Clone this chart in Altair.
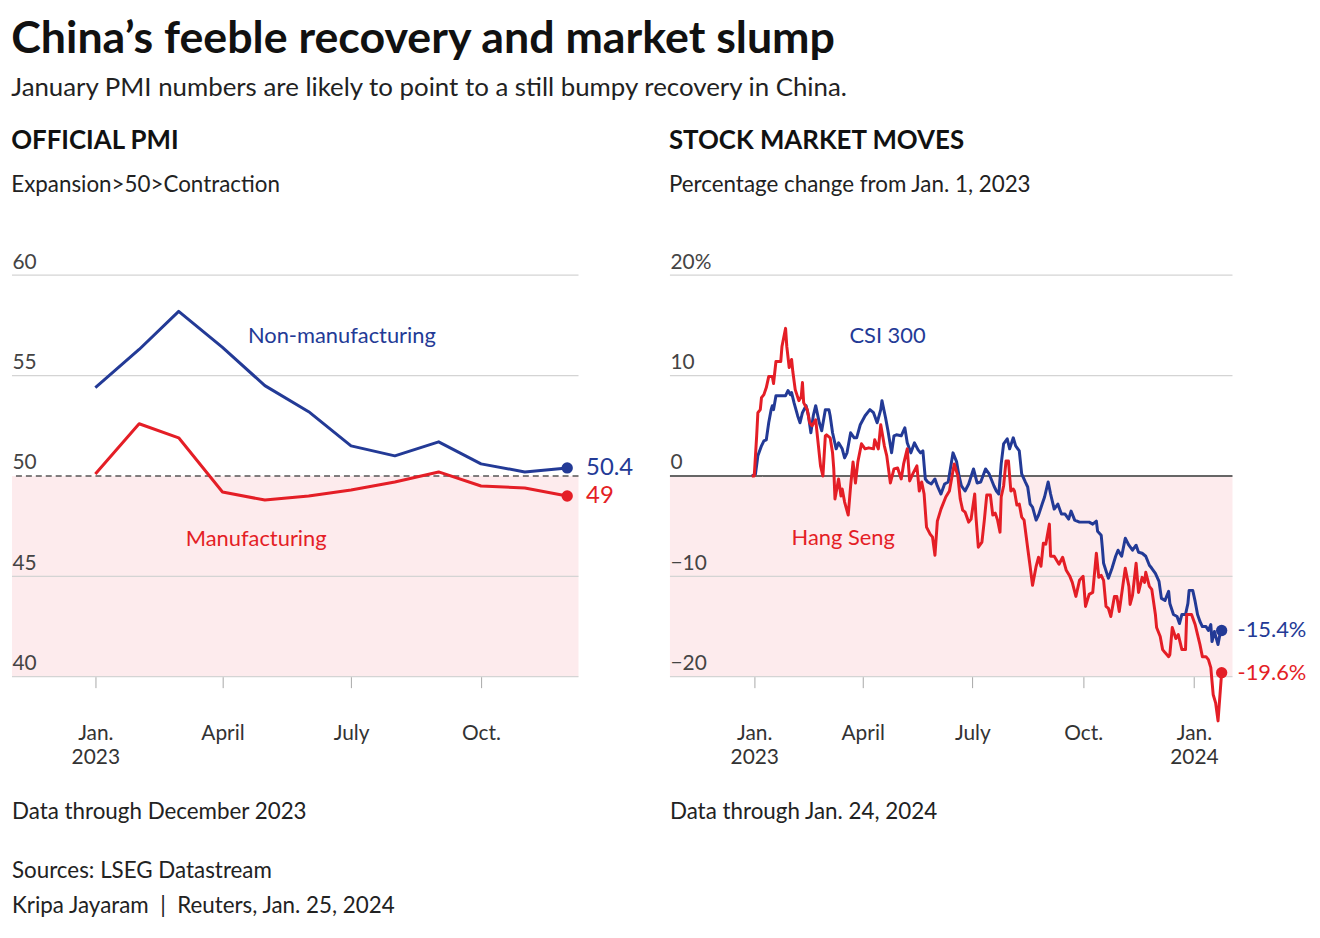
import altair as alt
import pandas as pd

FONT = "Lato"
BLUE = "#233a96"
BLUE_TXT = "#2c2f8e"
RED = "#e41e26"
PINK = "#fdebed"
GRID = "#d4d4d4"

# ---------------- Official PMI (monthly, 2023) ----------------
pmi_months = ["2023-01-01", "2023-02-01", "2023-03-01", "2023-04-01", "2023-05-01", "2023-06-01",
              "2023-07-01", "2023-08-01", "2023-09-01", "2023-10-01", "2023-11-01", "2023-12-01"]
pmi_nonmfg = [54.4, 56.3, 58.2, 56.4, 54.5, 53.2, 51.5, 51.0, 51.7, 50.6, 50.2, 50.4]
pmi_mfg = [50.1, 52.6, 51.9, 49.2, 48.8, 49.0, 49.3, 49.7, 50.2, 49.5, 49.4, 49.0]

# ---------------- Stock market moves (% change from Jan. 1, 2023) ----------------
# x-values: days after 2023-01-01
csi_days = [-2, 1, 3, 6, 8, 10, 12, 14, 15, 16, 18, 21, 26, 28, 30, 31, 33, 36, 38, 40, 43, 45, 47, 49, 51,
            54, 56, 59, 62, 63, 65, 68, 70, 73, 75, 77, 80, 83, 85, 88, 92, 96, 99, 102, 105, 106, 109, 111,
            114, 116, 118, 122, 125, 127, 130, 133, 136, 138, 140, 142, 144, 147, 150, 152, 155, 158, 161,
            165, 168, 170, 172, 175, 178, 182, 185, 188, 192, 195, 199, 201, 203, 205, 207, 210, 212, 215,
            217, 220, 222, 225, 227, 229, 231, 234, 236, 239, 241, 244, 246, 249, 252, 255, 258, 261, 263,
            266, 270, 274, 278, 281, 284, 285, 288, 289, 290, 294, 297, 300, 302, 305, 308, 311, 314, 317,
            319, 322, 325, 328, 330, 333, 336, 338, 341, 344, 345, 348, 351, 353, 355, 358, 360, 361, 364,
            366, 368, 370, 372, 375, 377, 379, 380, 382, 385, 387, 388]
csi_pct = [0.0, 0.2, 2.0, 3.0, 3.5, 3.6, 5.3, 6.6, 7.0, 6.6, 8.0, 8.0, 8.0, 8.5, 8.1, 8.3, 7.3, 6.0, 5.3, 6.3,
           7.0, 6.0, 4.3, 6.0, 7.0, 5.3, 4.5, 6.6, 6.6, 6.0, 4.3, 2.7, 3.3, 2.7, 1.8, 2.3, 4.3, 3.8, 3.8,
           5.1, 6.0, 6.6, 6.3, 5.3, 6.6, 7.5, 5.8, 4.5, 2.3, 4.0, 4.1, 4.0, 4.8, 3.3, 2.3, 3.3, 2.6, 2.3,
           2.5, -0.3, -0.6, -0.8, -0.3, -1.0, -1.8, -0.8, -0.6, 2.3, 1.4, 0.0, -1.0, -1.5, -0.8, 0.7, -0.7,
           -0.6, 0.7, 0.2, -1.0, -1.5, -1.8, 1.2, 3.2, 3.7, 2.7, 3.8, 3.0, 2.5, 0.2, -0.6, -1.1, -2.8,
           -3.1, -4.4, -3.9, -2.8, -2.1, -0.6, -1.8, -3.3, -2.8, -3.8, -3.8, -4.3, -3.5, -4.4, -4.6, -4.6,
           -4.6, -4.8, -4.5, -5.5, -5.9, -7.2, -8.7, -10.2, -9.2, -8.0, -7.4, -8.0, -6.2, -6.9, -7.4, -6.9,
           -7.6, -7.7, -8.0, -8.9, -9.2, -9.7, -10.5, -12.2, -12.4, -11.5, -12.7, -13.8, -14.0, -14.7,
           -13.8, -13.8, -12.7, -11.4, -11.4, -12.5, -13.8, -14.5, -15.0, -15.0, -15.4, -14.8, -16.5,
           -15.5, -16.8, -15.5, -15.4]

hs_days = [-2, 0, 2, 3, 5, 6, 8, 10, 12, 15, 16, 18, 22, 23, 26, 27, 29, 31, 32, 34, 37, 39, 40, 41, 44, 46,
           48, 51, 53, 55, 57, 59, 60, 63, 65, 66, 67, 70, 72, 73, 75, 78, 80, 82, 84, 86, 89, 92, 95, 99,
           100, 103, 105, 108, 110, 113, 116, 119, 122, 124, 127, 129, 132, 135, 137, 139, 141, 143, 146,
           148, 150, 152, 155, 159, 162, 166, 169, 171, 173, 175, 178, 180, 183, 184, 186, 189, 191, 193,
           196, 198, 200, 202, 204, 205, 207, 209, 211, 213, 215, 216, 218, 220, 222, 224, 227, 229, 231,
           234, 236, 238, 240, 242, 245, 246, 249, 251, 253, 256, 259, 262, 264, 267, 270, 273, 275, 278,
           281, 284, 286, 288, 290, 292, 294, 296, 299, 301, 303, 306, 308, 311, 312, 314, 317, 319, 322,
           324, 325, 328, 330, 333, 334, 337, 339, 341, 344, 345, 347, 350, 352, 355, 358, 359, 363, 366,
           368, 370, 372, 375, 377, 379, 381, 383, 385, 388]
hs_pct = [0.0, 0.0, 4.0, 6.3, 6.6, 7.8, 8.1, 8.8, 9.9, 9.9, 9.2, 11.4, 11.4, 12.9, 14.7, 12.9, 10.8, 11.6,
          10.4, 8.6, 7.5, 7.9, 9.3, 7.3, 6.6, 5.3, 5.0, 5.6, 3.3, 1.0, 0.0, 4.0, 4.1, 3.8, 2.3, 0.7, -2.3,
          -0.3, -2.0, -1.3, -2.6, -3.9, -1.0, 1.4, -0.7, 1.4, 3.2, 2.7, 2.8, 2.7, 3.6, 2.7, 5.1, 3.0, 2.0,
          -0.7, 0.7, 0.8, -0.3, 1.2, 2.7, -0.5, 0.3, 1.0, -1.5, -0.6, -1.8, -5.1, -5.8, -6.1, -7.9, -4.5,
          -3.3, -2.1, -1.5, 1.2, 0.0, -2.3, -3.4, -3.6, -4.6, -4.3, -1.8, -4.0, -7.1, -6.6, -4.4, -1.9,
          -1.9, -3.9, -3.7, -4.4, -5.6, -2.1, -1.0, 1.5, 1.5, -1.5, -1.3, -1.5, -2.9, -2.8, -4.1, -4.4,
          -7.2, -9.0, -10.9, -9.0, -8.1, -9.0, -6.7, -6.8, -4.8, -8.0, -8.0, -8.4, -8.8, -8.1, -9.4, -10.0,
          -10.6, -12.0, -10.4, -10.0, -13.0, -11.8, -11.6, -7.7, -10.1, -9.9, -10.4, -13.0, -13.2, -14.0,
          -12.0, -12.0, -13.5, -10.9, -9.2, -11.0, -12.8, -11.9, -8.7, -11.6, -10.1, -10.6, -9.6, -11.0,
          -11.3, -13.8, -15.1, -16.0, -17.3, -17.6, -18.0, -17.8, -15.1, -16.2, -15.8, -17.3, -17.3,
          -13.8, -13.8, -14.8, -15.8, -16.8, -18.0, -18.0, -18.3, -19.1, -21.8, -22.6, -24.4, -19.6]

pmi_grid = [40, 45, 55, 60]
pmi_ticks = [40, 45, 50, 55, 60]
stock_grid = [-20, -10, 10, 20]
stock_ticks = [-20, -10, 0, 10, 20]

# ---------------- build tables ----------------
base = pd.Timestamp("2023-01-01")
pmi_df = pd.concat([
    pd.DataFrame({"date": pd.to_datetime(pmi_months), "value": pmi_nonmfg, "series": "Non-manufacturing"}),
    pd.DataFrame({"date": pd.to_datetime(pmi_months), "value": pmi_mfg, "series": "Manufacturing"}),
])
stock_df = pd.concat([
    pd.DataFrame({"date": base + pd.to_timedelta(csi_days, unit="D"), "value": csi_pct, "series": "CSI 300"}),
    pd.DataFrame({"date": base + pd.to_timedelta(hs_days, unit="D"), "value": hs_pct, "series": "Hang Seng"}),
])
pmi_last = pmi_df.groupby("series").tail(1).copy()
pmi_last["label"] = pmi_last["value"].map(lambda v: f"{v:g}")
stock_last = stock_df.groupby("series").tail(1).copy()
stock_last["label"] = stock_last["value"].map(lambda v: f"{v:.1f}%")

W1, W2, H = 570, 566, 404
NB = "\u00a0"

month_label = ("month(datum.value) == 0 ? ['Jan.', '' + year(datum.value)] : "
               "month(datum.value) == 3 ? 'April' : month(datum.value) == 6 ? 'July' : 'Oct.'")


def x_enc(domain, ticks):
    return alt.X("date:T", title=None,
                 scale=alt.Scale(domain=domain),
                 axis=alt.Axis(values=ticks, labelExpr=month_label, grid=False, domain=False,
                               ticks=True, tickSize=11, tickColor="#a8a8a8", tickWidth=1,
                               labelPadding=35, labelFont=FONT, labelFontSize=21, labelColor="#333",
                               labelLineHeight=24, labelFlush=False, labelOverlap=False,
                               labelBaseline="top", zindex=1))


def y_axis(values, expr):
    return alt.Axis(values=values, labelExpr=expr, grid=False, domain=False, ticks=False, tickSize=0,
                    labelAlign="left", labelBaseline="alphabetic", labelPadding=0, labelOffset=-7,
                    labelFont=FONT, labelFontSize=21, labelColor="#444", labelFlush=False,
                    labelOverlap=False, title=None, zindex=1)


def panel(df, last, grid_vals, tick_vals, ydomain, band, ref, ref_dash, xdomain, xticks, width,
          colors, yexpr, annotations, footer_lines, title, subtitle, end_size, end_dx):
    x = x_enc(xdomain, xticks)
    y = alt.Y("value:Q", scale=alt.Scale(domain=ydomain), axis=y_axis(tick_vals, yexpr), title=None)
    keys = list(colors.keys())
    color = alt.Color("series:N", scale=alt.Scale(domain=keys, range=list(colors.values())), legend=None)
    color_txt = alt.Color("series:N", scale=alt.Scale(domain=keys, range=[BLUE_TXT, RED]), legend=None)

    shade = alt.Chart(pd.DataFrame({"lo": [band[0]], "hi": [band[1]]})).mark_rect(color=PINK).encode(
        x=alt.value(0), x2=alt.value(width),
        y=alt.Y("hi:Q", scale=alt.Scale(domain=ydomain), axis=y_axis(tick_vals, yexpr), title=None),
        y2="lo:Q")
    grid = alt.Chart(pd.DataFrame({"g": grid_vals})).mark_rule(color=GRID, strokeWidth=1.2).encode(
        y=alt.Y("g:Q", scale=alt.Scale(domain=ydomain)))
    refline = alt.Chart(pd.DataFrame({"r": [ref]})).mark_rule(
        color="#555" if ref_dash else "#666", strokeWidth=1.5 if ref_dash else 2,
        strokeDash=[6, 4] if ref_dash else [1, 0]).encode(y=alt.Y("r:Q", scale=alt.Scale(domain=ydomain)))
    lines = alt.Chart(df).mark_line(strokeWidth=3, clip=False, strokeJoin="round").encode(
        x=x, y=y, color=color, detail="series:N")
    dots = alt.Chart(last).mark_circle(size=130, opacity=1).encode(
        x="date:T", y="value:Q", color=color_txt)
    end_labels = alt.Chart(last).mark_text(align="left", baseline="middle", dx=end_dx, font=FONT,
                                           fontSize=end_size).encode(
        x="date:T", y="value:Q", text="label:N", color=color_txt)
    ann_df = pd.DataFrame(annotations, columns=["date", "value", "text", "series"])
    ann_df["date"] = pd.to_datetime(ann_df["date"])
    ann = alt.Chart(ann_df).mark_text(align="left", baseline="middle", font=FONT, fontSize=22).encode(
        x="date:T", y="value:Q", text="text:N", color=color_txt)
    layers = [shade, grid, refline, lines, dots, end_labels, ann]
    for txt, ypos in footer_lines:
        layers.append(alt.Chart(pd.DataFrame({"t": [txt]})).mark_text(
            align="left", baseline="alphabetic", font=FONT, fontSize=22.5, color="#222").encode(
            x=alt.value(0), y=alt.value(ypos), text="t:N"))
    return alt.layer(*layers).properties(
        width=width, height=H,
        title=alt.TitleParams(title, subtitle=subtitle, anchor="start", font=FONT, fontSize=26,
                              fontWeight="bold", color="#111", subtitleFont=FONT, subtitleFontSize=22.5,
                              subtitleColor="#222", subtitlePadding=20, offset=55))


left = panel(
    pmi_df, pmi_last, pmi_grid, pmi_ticks, [40, 60], (40, 50), 50, True,
    [alt.DateTime(year=2022, month=11, date=3), alt.DateTime(year=2023, month=12, date=9)],
    [alt.DateTime(year=2023, month=m, date=1) for m in (1, 4, 7, 10)], W1,
    {"Non-manufacturing": BLUE, "Manufacturing": RED}, "'' + datum.value",
    [("2023-04-19", 56.95, "Non-manufacturing", "Non-manufacturing"),
     ("2023-03-06", 46.85, "Manufacturing", "Manufacturing")],
    [("Data through December 2023", H + 143), ("Sources: LSEG Datastream", H + 203),
     (f"Kripa Jayaram{NB}{NB}|{NB}{NB}Reuters, Jan. 25, 2024", H + 238)],
    "OFFICIAL PMI", "Expansion>50>Contraction", 24, 19)

right = panel(
    stock_df, stock_last, stock_grid, stock_ticks, [-20, 20], (-20, 0), 0, False,
    [alt.DateTime(year=2022, month=10, date=23), alt.DateTime(year=2024, month=2, date=2)],
    [alt.DateTime(year=2023, month=m, date=1) for m in (1, 4, 7, 10)] + [alt.DateTime(year=2024, month=1, date=1)],
    W2, {"CSI 300": BLUE, "Hang Seng": RED},
    "datum.value == 20 ? '20%' : datum.value < 0 ? '\u2212' + abs(datum.value) : '' + datum.value",
    [("2023-03-21", 13.96, "CSI 300", "CSI 300"),
     ("2023-02-01", -6.2, "Hang Seng", "Hang Seng")],
    [("Data through Jan. 24, 2024", H + 143)],
    "STOCK MARKET MOVES", "Percentage change from Jan. 1, 2023", 22, 16)

chart = alt.hconcat(left, right, spacing=92, bounds="flush").resolve_scale(color="independent").properties(
    padding={"left": 3, "top": 6, "right": 5, "bottom": 5},
    title=alt.TitleParams("China\u2019s feeble recovery and market slump",
                          subtitle="January PMI numbers are likely to point to a still bumpy recovery in China.",
                          anchor="start", font=FONT, fontSize=45, fontWeight="bold", color="#111",
                          subtitleFont=FONT, subtitleFontSize=26, subtitleColor="#222",
                          subtitlePadding=13, offset=28)
).configure_view(strokeWidth=0, stroke=None)

chart.save("out.html", embed_options={"renderer": "svg", "actions": False})
